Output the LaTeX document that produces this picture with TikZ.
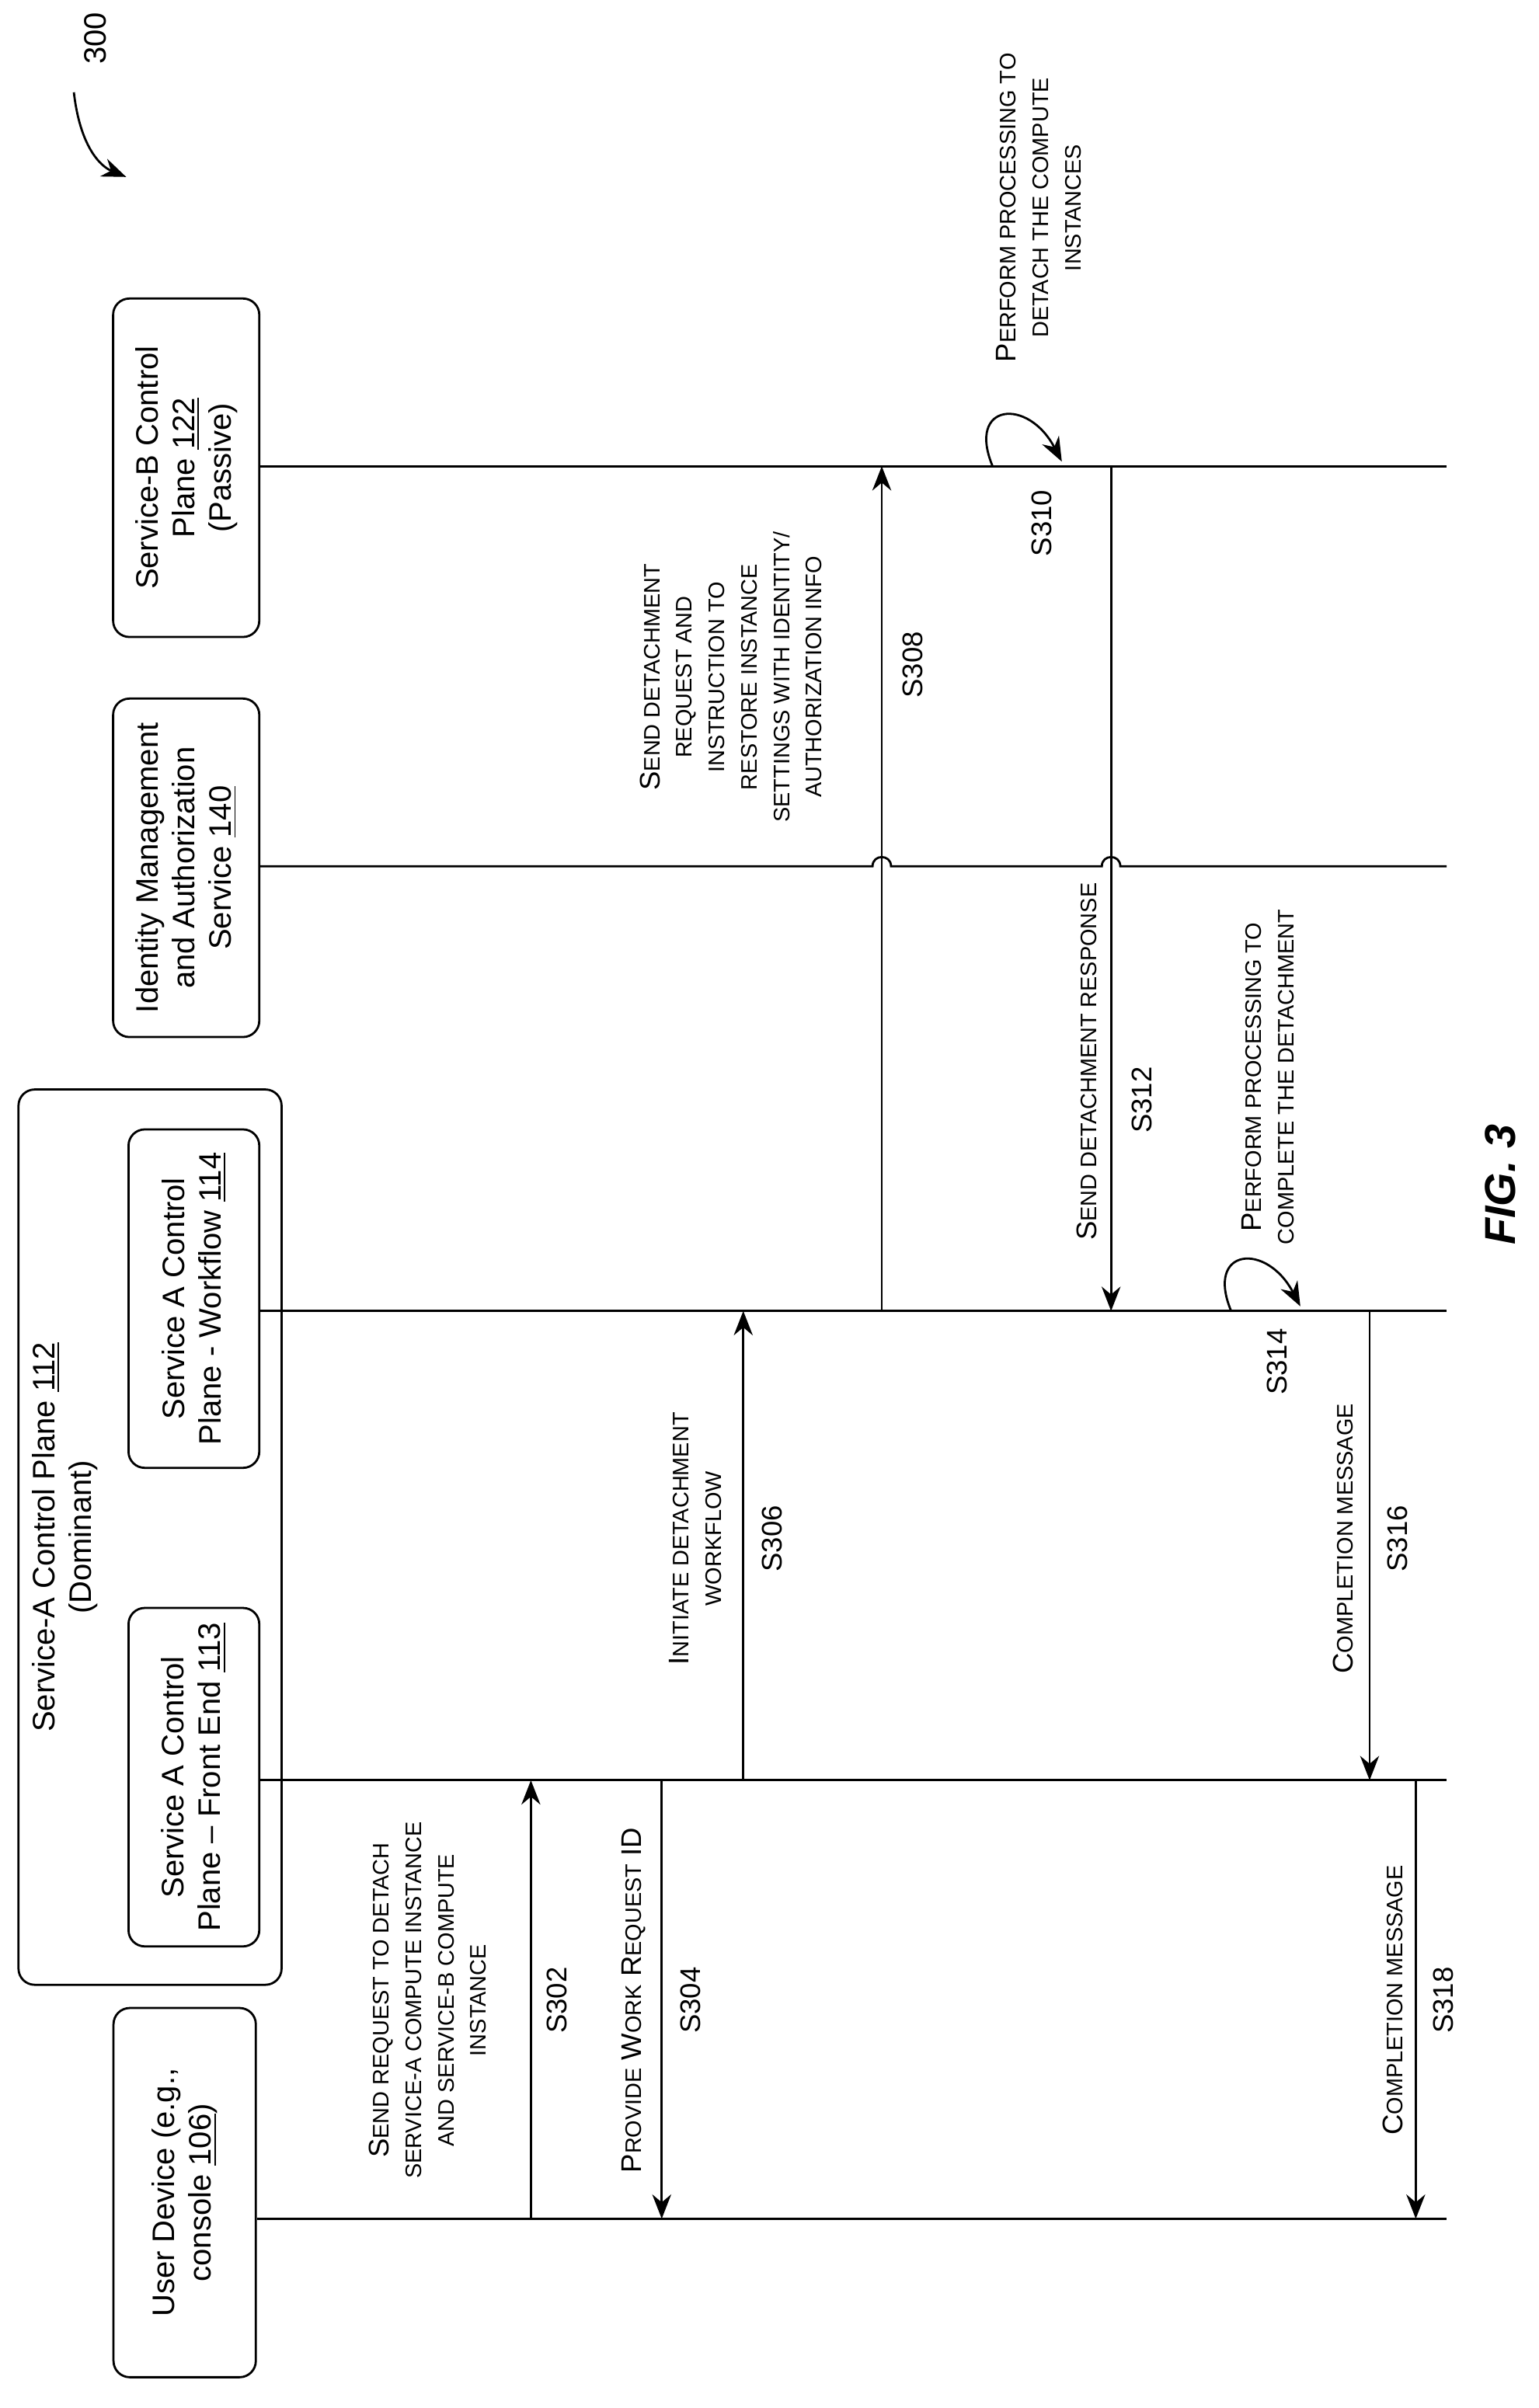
\documentclass[tikz,border=0pt]{standalone}
\usepackage{fontspec}
\setmainfont{Liberation Sans}
\usetikzlibrary{arrows.meta, positioning}
\newcommand{\smc}[1]{{\fontsize{8.3}{11}\selectfont #1}}

\begin{document}
\begin{tikzpicture}[x=0.02cm, y=-0.02cm, thick,
    actor/.style={draw, rounded corners=6pt, rotate=90, align=center, font=\fontsize{11.5}{13.5}\selectfont, minimum height=1.85cm},
    lbl/.style={rotate=90, align=center, font=\fontsize{10.5}{12}\selectfont},
    msg/.style={-{Stealth[length=9pt,width=7pt]}}]
  \useasboundingbox (0,0) rectangle (1000,1565);
  % participants
  \node[actor, minimum width=4.8cm] (user) at (120,1425) {User Device (e.g.,\\ console \underline{106})};
  \node[draw, rounded corners=6pt, minimum width=3.42cm, minimum height=11.64cm] (svca) at (97.5,999) {};
  \node[lbl, font=\fontsize{11.5}{13.5}\selectfont] (svcatxt) at (42,999) {Service-A Control Plane \underline{112}\\ (Dominant)};
  \node[actor, minimum width=4.4cm, minimum height=1.7cm] (fe) at (126,1155) {Service A Control\\ Plane -- Front End \underline{113}};
  \node[actor, minimum width=4.4cm, minimum height=1.7cm] (wf) at (126,844) {Service A Control\\ Plane - Workflow \underline{114}};
  \node[actor, minimum width=4.4cm, minimum height=1.9cm] (iam) at (121,564) {Identity Management\\ and Authorization\\ Service \underline{140}};
  \node[actor, minimum width=4.4cm, minimum height=1.9cm] (svcb) at (121,304) {Service-B Control\\ Plane \underline{122}\\ (Passive)};
  % lifelines
  \coordinate (endU) at (940,1442);
  \coordinate (endF) at (940,1157);
  \coordinate (endW) at (940,852);
  \coordinate (endB) at (940,303);
  \draw (user.south |- endU) -- (endU);
  \draw (fe.south |- endF) -- (endF);
  \draw (wf.south |- endW) -- (endW);
  \draw (svcb.south |- endB) -- (endB);
  \draw (iam.south |- 0,563) -- (567,563) .. controls (567,555) and (579,555) .. (579,563)
        -- (716,563) .. controls (716,555) and (728,555) .. (728,563) -- (940,563);
  % messages
  \coordinate (s302a) at (345,1442); \coordinate (s302b) at (345,1157);
  \coordinate (s304a) at (430,1157); \coordinate (s304b) at (430,1442);
  \coordinate (s306a) at (483,1157); \coordinate (s306b) at (483,852);
  \coordinate (s308a) at (573,852);  \coordinate (s308b) at (573,303);
  \coordinate (s312a) at (722,303);  \coordinate (s312b) at (722,852);
  \coordinate (s316a) at (890,852);  \coordinate (s316b) at (890,1157);
  \coordinate (s318a) at (920,1157); \coordinate (s318b) at (920,1442);
  \draw[msg] (s302a) -- (s302b);
  \draw[msg] (s304a) -- (s304b);
  \draw[msg] (s306a) -- (s306b);
  \draw[msg] (s308a) -- (s308b);
  \draw[msg] (s312a) -- (s312b);
  \draw[msg] (s316a) -- (s316b);
  \draw[msg] (s318a) -- (s318b);
  % self loops
  \coordinate (l310a) at (645,303); \coordinate (l310b) at (690,300);
  \coordinate (l314a) at (800,852); \coordinate (l314b) at (845,849);
  \draw[msg] (l310a) .. controls (628,262) and (668,258) .. (l310b);
  \draw[msg] (l314a) .. controls (783,811) and (823,807) .. (l314b);
  % labels
  \node[lbl] (t302) at (278,1300) {S\smc{END REQUEST TO DETACH}\\ \smc{SERVICE-A COMPUTE INSTANCE}\\ \smc{AND SERVICE-B COMPUTE}\\ \smc{INSTANCE}};
  \node[lbl] (n302) at (362,1300) {S302};
  \node[lbl] (t304) at (412,1300) {P\smc{ROVIDE} W\smc{ORK} R\smc{EQUEST} ID};
  \node[lbl] (n304) at (449,1300) {S304};
  \node[lbl] (t306) at (452,1000) {I\smc{NITIATE DETACHMENT}\\ \smc{WORKFLOW}};
  \node[lbl] (n306) at (502,1000) {S306};
  \node[lbl] (t308) at (475,440) {S\smc{END DETACHMENT}\\ \smc{REQUEST AND}\\ \smc{INSTRUCTION TO}\\ \smc{RESTORE INSTANCE}\\ \smc{SETTINGS WITH IDENTITY/}\\ \smc{AUTHORIZATION INFO}};
  \node[lbl] (n308) at (593,432) {S308};
  \node[lbl] (t310) at (675,135) {P\smc{ERFORM PROCESSING TO}\\ \smc{DETACH THE COMPUTE}\\ \smc{INSTANCES}};
  \node[lbl] (n310) at (677,340) {S310};
  \node[lbl] (t312) at (706,690) {S\smc{END DETACHMENT RESPONSE}};
  \node[lbl] (n312) at (742,715) {S312};
  \node[lbl] (t314) at (824,700) {P\smc{ERFORM PROCESSING TO}\\ \smc{COMPLETE THE DETACHMENT}};
  \node[lbl] (n314) at (830,885) {S314};
  \node[lbl] (t316) at (873,1000) {C\smc{OMPLETION MESSAGE}};
  \node[lbl] (n316) at (908,1000) {S316};
  \node[lbl] (t318) at (905,1300) {C\smc{OMPLETION MESSAGE}};
  \node[lbl] (n318) at (938,1300) {S318};
  \node[lbl, font=\bfseries\itshape\fontsize{16}{18}\selectfont] (fig) at (975,770) {FIG. 3};
  \node[lbl, font=\fontsize{11.5}{13}\selectfont] (ref) at (62,25) {300};
  \draw[msg] (48,60) .. controls (52,95) and (65,108) .. (82,115);
\end{tikzpicture}
\end{document}
